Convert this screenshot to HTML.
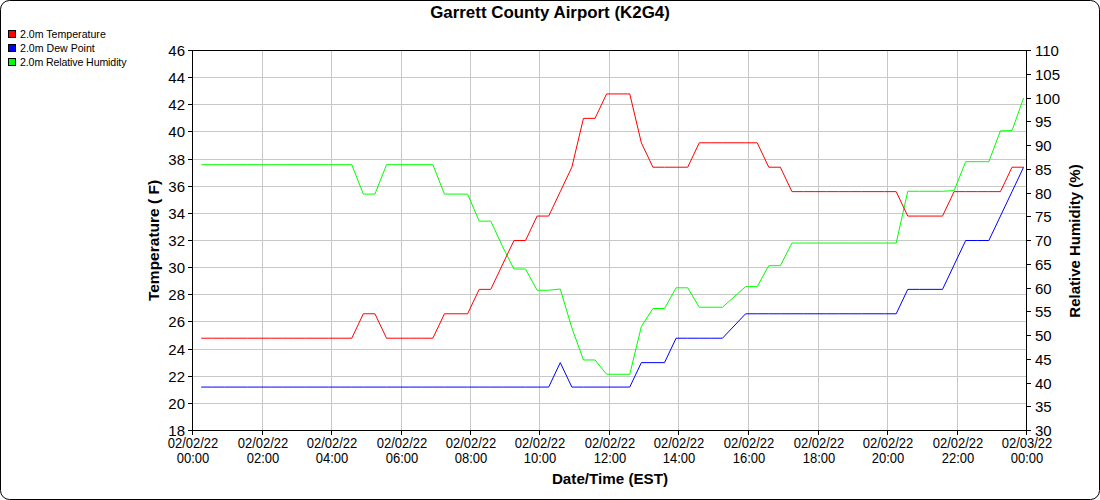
<!DOCTYPE html><html><head><meta charset="utf-8"><style>html,body{margin:0;padding:0;background:#fff;width:1100px;height:500px;overflow:hidden}svg{display:block}text{font-family:"Liberation Sans",sans-serif;fill:#000}</style></head><body>
<svg width="1100" height="500" viewBox="0 0 1100 500">
<rect x="0.5" y="0.5" width="1099" height="499" rx="9" ry="9" fill="#fff" stroke="#000" stroke-width="1"/>
<text x="550" y="18" text-anchor="middle" font-weight="bold" font-size="16.9">Garrett County Airport (K2G4)</text>
<rect x="8.5" y="30.5" width="7" height="7" fill="#f00" stroke="#000" stroke-width="1"/>
<text x="20" y="38" font-size="10.6">2.0m Temperature</text>
<rect x="8.5" y="44.5" width="7" height="7" fill="#00f" stroke="#000" stroke-width="1"/>
<text x="20" y="52" font-size="10.6">2.0m Dew Point</text>
<rect x="8.5" y="58.5" width="7" height="7" fill="#0f0" stroke="#000" stroke-width="1"/>
<text x="20" y="66" font-size="10.6" textLength="106.5" lengthAdjust="spacing">2.0m Relative Humidity</text>
<path d="M192 403.5H1026M192 376.5H1026M192 349.5H1026M192 321.5H1026M192 294.5H1026M192 267.5H1026M192 240.5H1026M192 213.5H1026M192 186.5H1026M192 159.5H1026M192 131.5H1026M192 104.5H1026M192 77.5H1026M262.5 50V430M331.5 50V430M401.5 50V430M470.5 50V430M539.5 50V430M609.5 50V430M678.5 50V430M748.5 50V430M818.5 50V430M887.5 50V430M957.5 50V430" stroke="#c8c8c8" stroke-width="1" fill="none" shape-rendering="crispEdges"/>
<g fill="none" stroke-width="1" stroke-linejoin="miter">
<path d="M201.19,164.69 L212.77,164.69 L224.35,164.69 L235.94,164.69 L247.52,164.69 L259.10,164.69 L270.69,164.69 L282.27,164.69 L293.85,164.69 L305.44,164.69 L317.02,164.69 L328.60,164.69 L340.19,164.69 L351.77,164.69 L363.35,194.08 L374.94,194.08 L386.52,164.69 L398.10,164.69 L409.69,164.69 L421.27,164.69 L432.85,164.69 L444.44,194.08 L456.02,194.08 L467.60,194.08 L479.19,221.13 L490.77,221.13 L502.35,246.06 L513.94,269.03 L525.52,269.03 L537.10,290.23 L548.69,290.23 L560.27,289.01 L571.85,327.85 L583.44,359.98 L595.02,359.98 L606.60,374.26 L618.19,374.26 L629.77,374.26 L641.35,326.52 L652.94,308.50 L664.52,308.50 L676.10,287.81 L687.69,287.81 L699.27,307.23 L710.85,307.23 L722.44,307.23 L745.60,286.62 L757.19,286.62 L768.77,265.69 L780.35,265.69 L791.94,243.05 L803.52,243.05 L815.10,243.05 L826.69,243.05 L838.27,243.05 L849.85,243.05 L861.44,243.05 L873.02,243.05 L884.60,243.05 L896.19,243.05 L907.77,191.27 L919.35,191.27 L930.94,191.27 L942.52,191.27 L954.10,190.59 L965.69,161.68 L977.27,161.68 L988.85,161.68 L1000.44,130.86 L1012.02,130.60 L1023.60,98.00" stroke="#0f0"/>
<path d="M201.19,387.07 L212.77,387.07 L224.35,387.07 L235.94,387.07 L247.52,387.07 L259.10,387.07 L270.69,387.07 L282.27,387.07 L293.85,387.07 L305.44,387.07 L317.02,387.07 L328.60,387.07 L340.19,387.07 L351.77,387.07 L363.35,387.07 L374.94,387.07 L386.52,387.07 L398.10,387.07 L409.69,387.07 L421.27,387.07 L432.85,387.07 L444.44,387.07 L456.02,387.07 L467.60,387.07 L479.19,387.07 L490.77,387.07 L502.35,387.07 L513.94,387.07 L525.52,387.07 L537.10,387.07 L548.69,387.07 L560.27,362.64 L571.85,387.07 L583.44,387.07 L595.02,387.07 L606.60,387.07 L618.19,387.07 L629.77,387.07 L641.35,362.64 L652.94,362.64 L664.52,362.64 L676.10,338.21 L687.69,338.21 L699.27,338.21 L710.85,338.21 L722.44,338.21 L745.60,313.79 L757.19,313.79 L768.77,313.79 L780.35,313.79 L791.94,313.79 L803.52,313.79 L815.10,313.79 L826.69,313.79 L838.27,313.79 L849.85,313.79 L861.44,313.79 L873.02,313.79 L884.60,313.79 L896.19,313.79 L907.77,289.36 L919.35,289.36 L930.94,289.36 L942.52,289.36 L954.10,264.93 L965.69,240.50 L977.27,240.50 L988.85,240.50 L1000.44,216.07 L1012.02,191.64 L1023.60,167.21" stroke="#00f"/>
<path d="M201.19,338.21 L212.77,338.21 L224.35,338.21 L235.94,338.21 L247.52,338.21 L259.10,338.21 L270.69,338.21 L282.27,338.21 L293.85,338.21 L305.44,338.21 L317.02,338.21 L328.60,338.21 L340.19,338.21 L351.77,338.21 L363.35,313.79 L374.94,313.79 L386.52,338.21 L398.10,338.21 L409.69,338.21 L421.27,338.21 L432.85,338.21 L444.44,313.79 L456.02,313.79 L467.60,313.79 L479.19,289.36 L490.77,289.36 L502.35,264.93 L513.94,240.50 L525.52,240.50 L537.10,216.07 L548.69,216.07 L560.27,191.64 L571.85,167.21 L583.44,118.36 L595.02,118.36 L606.60,93.93 L618.19,93.93 L629.77,93.93 L641.35,142.79 L652.94,167.21 L664.52,167.21 L676.10,167.21 L687.69,167.21 L699.27,142.79 L710.85,142.79 L722.44,142.79 L745.60,142.79 L757.19,142.79 L768.77,167.21 L780.35,167.21 L791.94,191.64 L803.52,191.64 L815.10,191.64 L826.69,191.64 L838.27,191.64 L849.85,191.64 L861.44,191.64 L873.02,191.64 L884.60,191.64 L896.19,191.64 L907.77,216.07 L919.35,216.07 L930.94,216.07 L942.52,216.07 L954.10,191.64 L965.69,191.64 L977.27,191.64 L988.85,191.64 L1000.44,191.64 L1012.02,167.21 L1023.60,167.21" stroke="#f00"/>
</g>
<path d="M192.5 50V431M192 50.5H1027M192 430.5H1027M1026.5 50V431M188 430.5H192M188 403.5H192M188 376.5H192M188 349.5H192M188 321.5H192M188 294.5H192M188 267.5H192M188 240.5H192M188 213.5H192M188 186.5H192M188 159.5H192M188 131.5H192M188 104.5H192M188 77.5H192M188 50.5H192M1027 430.5H1031M1027 406.5H1031M1027 383.5H1031M1027 359.5H1031M1027 335.5H1031M1027 311.5H1031M1027 288.5H1031M1027 264.5H1031M1027 240.5H1031M1027 216.5H1031M1027 193.5H1031M1027 169.5H1031M1027 145.5H1031M1027 121.5H1031M1027 98.5H1031M1027 74.5H1031M1027 50.5H1031M192.5 431V435M262.5 431V435M331.5 431V435M401.5 431V435M470.5 431V435M539.5 431V435M609.5 431V435M678.5 431V435M748.5 431V435M818.5 431V435M887.5 431V435M957.5 431V435M1026.5 431V435" stroke="#000" stroke-width="1" fill="none" shape-rendering="crispEdges"/>
<text transform="translate(185,436.00) scale(1,1.0)" text-anchor="end" font-size="15">18</text>
<text transform="translate(185,408.86) scale(1,1.0)" text-anchor="end" font-size="15">20</text>
<text transform="translate(185,381.71) scale(1,1.0)" text-anchor="end" font-size="15">22</text>
<text transform="translate(185,354.57) scale(1,1.0)" text-anchor="end" font-size="15">24</text>
<text transform="translate(185,327.43) scale(1,1.0)" text-anchor="end" font-size="15">26</text>
<text transform="translate(185,300.29) scale(1,1.0)" text-anchor="end" font-size="15">28</text>
<text transform="translate(185,273.14) scale(1,1.0)" text-anchor="end" font-size="15">30</text>
<text transform="translate(185,246.00) scale(1,1.0)" text-anchor="end" font-size="15">32</text>
<text transform="translate(185,218.86) scale(1,1.0)" text-anchor="end" font-size="15">34</text>
<text transform="translate(185,191.71) scale(1,1.0)" text-anchor="end" font-size="15">36</text>
<text transform="translate(185,164.57) scale(1,1.0)" text-anchor="end" font-size="15">38</text>
<text transform="translate(185,137.43) scale(1,1.0)" text-anchor="end" font-size="15">40</text>
<text transform="translate(185,110.29) scale(1,1.0)" text-anchor="end" font-size="15">42</text>
<text transform="translate(185,83.14) scale(1,1.0)" text-anchor="end" font-size="15">44</text>
<text transform="translate(185,56.00) scale(1,1.0)" text-anchor="end" font-size="15">46</text>
<text transform="translate(1035,436.00) scale(1,1.0)" font-size="15">30</text>
<text transform="translate(1035,412.25) scale(1,1.0)" font-size="15">35</text>
<text transform="translate(1035,388.50) scale(1,1.0)" font-size="15">40</text>
<text transform="translate(1035,364.75) scale(1,1.0)" font-size="15">45</text>
<text transform="translate(1035,341.00) scale(1,1.0)" font-size="15">50</text>
<text transform="translate(1035,317.25) scale(1,1.0)" font-size="15">55</text>
<text transform="translate(1035,293.50) scale(1,1.0)" font-size="15">60</text>
<text transform="translate(1035,269.75) scale(1,1.0)" font-size="15">65</text>
<text transform="translate(1035,246.00) scale(1,1.0)" font-size="15">70</text>
<text transform="translate(1035,222.25) scale(1,1.0)" font-size="15">75</text>
<text transform="translate(1035,198.50) scale(1,1.0)" font-size="15">80</text>
<text transform="translate(1035,174.75) scale(1,1.0)" font-size="15">85</text>
<text transform="translate(1035,151.00) scale(1,1.0)" font-size="15">90</text>
<text transform="translate(1035,127.25) scale(1,1.0)" font-size="15">95</text>
<text transform="translate(1035,103.50) scale(1,1.0)" font-size="15">100</text>
<text transform="translate(1035,79.75) scale(1,1.0)" font-size="15">105</text>
<text transform="translate(1035,56.00) scale(1,1.0)" font-size="15">110</text>
<text x="193.0" y="448" text-anchor="middle" font-size="14" textLength="50.6" lengthAdjust="spacingAndGlyphs">02/02/22</text>
<text x="193.0" y="463" text-anchor="middle" font-size="14" textLength="32.5" lengthAdjust="spacingAndGlyphs">00:00</text>
<text x="263.0" y="448" text-anchor="middle" font-size="14" textLength="50.6" lengthAdjust="spacingAndGlyphs">02/02/22</text>
<text x="263.0" y="463" text-anchor="middle" font-size="14" textLength="32.5" lengthAdjust="spacingAndGlyphs">02:00</text>
<text x="332.0" y="448" text-anchor="middle" font-size="14" textLength="50.6" lengthAdjust="spacingAndGlyphs">02/02/22</text>
<text x="332.0" y="463" text-anchor="middle" font-size="14" textLength="32.5" lengthAdjust="spacingAndGlyphs">04:00</text>
<text x="402.0" y="448" text-anchor="middle" font-size="14" textLength="50.6" lengthAdjust="spacingAndGlyphs">02/02/22</text>
<text x="402.0" y="463" text-anchor="middle" font-size="14" textLength="32.5" lengthAdjust="spacingAndGlyphs">06:00</text>
<text x="471.0" y="448" text-anchor="middle" font-size="14" textLength="50.6" lengthAdjust="spacingAndGlyphs">02/02/22</text>
<text x="471.0" y="463" text-anchor="middle" font-size="14" textLength="32.5" lengthAdjust="spacingAndGlyphs">08:00</text>
<text x="540.0" y="448" text-anchor="middle" font-size="14" textLength="50.6" lengthAdjust="spacingAndGlyphs">02/02/22</text>
<text x="540.0" y="463" text-anchor="middle" font-size="14" textLength="32.5" lengthAdjust="spacingAndGlyphs">10:00</text>
<text x="610.0" y="448" text-anchor="middle" font-size="14" textLength="50.6" lengthAdjust="spacingAndGlyphs">02/02/22</text>
<text x="610.0" y="463" text-anchor="middle" font-size="14" textLength="32.5" lengthAdjust="spacingAndGlyphs">12:00</text>
<text x="679.0" y="448" text-anchor="middle" font-size="14" textLength="50.6" lengthAdjust="spacingAndGlyphs">02/02/22</text>
<text x="679.0" y="463" text-anchor="middle" font-size="14" textLength="32.5" lengthAdjust="spacingAndGlyphs">14:00</text>
<text x="749.0" y="448" text-anchor="middle" font-size="14" textLength="50.6" lengthAdjust="spacingAndGlyphs">02/02/22</text>
<text x="749.0" y="463" text-anchor="middle" font-size="14" textLength="32.5" lengthAdjust="spacingAndGlyphs">16:00</text>
<text x="819.0" y="448" text-anchor="middle" font-size="14" textLength="50.6" lengthAdjust="spacingAndGlyphs">02/02/22</text>
<text x="819.0" y="463" text-anchor="middle" font-size="14" textLength="32.5" lengthAdjust="spacingAndGlyphs">18:00</text>
<text x="888.0" y="448" text-anchor="middle" font-size="14" textLength="50.6" lengthAdjust="spacingAndGlyphs">02/02/22</text>
<text x="888.0" y="463" text-anchor="middle" font-size="14" textLength="32.5" lengthAdjust="spacingAndGlyphs">20:00</text>
<text x="958.0" y="448" text-anchor="middle" font-size="14" textLength="50.6" lengthAdjust="spacingAndGlyphs">02/02/22</text>
<text x="958.0" y="463" text-anchor="middle" font-size="14" textLength="32.5" lengthAdjust="spacingAndGlyphs">22:00</text>
<text x="1027.0" y="448" text-anchor="middle" font-size="14" textLength="50.6" lengthAdjust="spacingAndGlyphs">02/03/22</text>
<text x="1027.0" y="463" text-anchor="middle" font-size="14" textLength="32.5" lengthAdjust="spacingAndGlyphs">00:00</text>
<text x="610" y="484" text-anchor="middle" font-weight="bold" font-size="15.2">Date/Time (EST)</text>
<text transform="translate(158.5,240.5) rotate(-90)" text-anchor="middle" font-weight="bold" font-size="15.5">Temperature ( F)</text>
<text transform="translate(1080,241) rotate(-90)" text-anchor="middle" font-weight="bold" font-size="15">Relative Humidity (%)</text>
</svg></body></html>
